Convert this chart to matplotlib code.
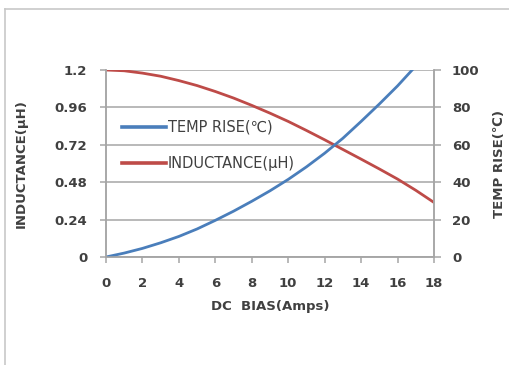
import matplotlib
matplotlib.use("Agg")
import matplotlib.pyplot as plt
from matplotlib.lines import Line2D

# Data
amps_temp = [0, 1, 2, 3, 4, 5, 6, 7, 8, 9, 10, 11, 12, 13, 14, 15, 16, 16.8]
temp_rise = [0, 2.1, 4.6, 7.6, 11.0, 15.0, 19.6, 24.5, 29.8, 35.4, 41.5, 48.2, 55.5, 63.5, 72.5, 81.8, 91.5, 100]
amps_ind = [0, 1, 2, 3, 4, 5, 6, 7, 8, 9, 10, 11, 12, 13, 14, 15, 16, 17, 18]
inductance = [1.2, 1.195, 1.18, 1.16, 1.132, 1.10, 1.062, 1.02, 0.973, 0.923, 0.87, 0.812,
              0.752, 0.69, 0.628, 0.565, 0.50, 0.428, 0.35]
x_ticks = [0, 2, 4, 6, 8, 10, 12, 14, 16, 18]
left_ticks = [0, 0.24, 0.48, 0.72, 0.96, 1.2]
left_ticklabels = ["0", "0.24", "0.48", "0.72", "0.96", "1.2"]
right_ticks = [0, 20, 40, 60, 80, 100]

BLUE = "#4a7ebb"
RED = "#be4b48"
GRAY = "#a6a6a6"
TXT = "#404040"

fig = plt.figure(figsize=(5.1, 3.65), dpi=100)
fig.patch.set_facecolor("white")

# outer frame
fig.add_artist(Line2D([5/510, 5/510], [0, 1 - 9/365], transform=fig.transFigure, color="#c8c8c8", lw=1.2))
fig.add_artist(Line2D([5/510, 1], [1 - 9/365, 1 - 9/365], transform=fig.transFigure, color="#c8c8c8", lw=1.2))

ax = fig.add_axes([106/510, 1 - 257/365, 328/510, 187/365])
ax2 = ax.twinx()

ax.plot(amps_ind, inductance, color=RED, lw=2.0, solid_joinstyle="round")
ax2.plot(amps_temp, temp_rise, color=BLUE, lw=2.0, solid_joinstyle="round")

ax.set_xlim(0, 18)
ax.set_ylim(0, 1.2)
ax2.set_ylim(0, 100)

ax.set_xticks(x_ticks)
ax.set_yticks(left_ticks)
ax.set_yticklabels(left_ticklabels)
ax2.set_yticks(right_ticks)

ax.grid(axis="y", color=GRAY, lw=1.1)
ax.set_axisbelow(True)

for a in (ax, ax2):
    for s in a.spines.values():
        s.set_color(GRAY)
        s.set_linewidth(1.1)
    a.spines["top"].set_visible(False)

ax.tick_params(axis="x", direction="out", length=4.5, width=1.1, color=GRAY, pad=10,
               labelsize=9.5, labelcolor=TXT)
ax.tick_params(axis="y", direction="out", length=4.5, width=1.1, color=GRAY, pad=9,
               labelsize=9.5, labelcolor=TXT)
ax2.tick_params(axis="y", direction="out", length=5, width=1.1, color=GRAY, pad=8,
                labelsize=9.5, labelcolor=TXT)
for lab in ax.get_xticklabels() + ax.get_yticklabels() + ax2.get_yticklabels():
    lab.set_fontweight("bold")

ax.set_xlabel("DC  BIAS(Amps)", fontsize=9.5, color=TXT, fontweight="bold", labelpad=7)
ax.set_ylabel("INDUCTANCE(μH)", fontsize=9.5, color=TXT, fontweight="bold")
ax2.set_ylabel("TEMP RISE(℃)", fontsize=9.5, color=TXT, fontweight="bold")
ax.yaxis.set_label_coords(-78/328, 0.5)
ax2.yaxis.set_label_coords((493-106)/328, 0.5)

handles = [Line2D([], [], color=BLUE, lw=2.6), Line2D([], [], color=RED, lw=2.6)]
leg = ax.legend(handles, ["TEMP RISE(℃)", "INDUCTANCE(μH)"], loc="center left",
                bbox_to_anchor=((122-106)/328, (257-145.5)/187), frameon=False,
                borderpad=0, borderaxespad=0, handlelength=3.0, handletextpad=0.15,
                labelspacing=1.45, fontsize=10.5)
for t in leg.get_texts():
    t.set_color(TXT)
leg.set_zorder(5)

fig.savefig("out.png", dpi=100)
